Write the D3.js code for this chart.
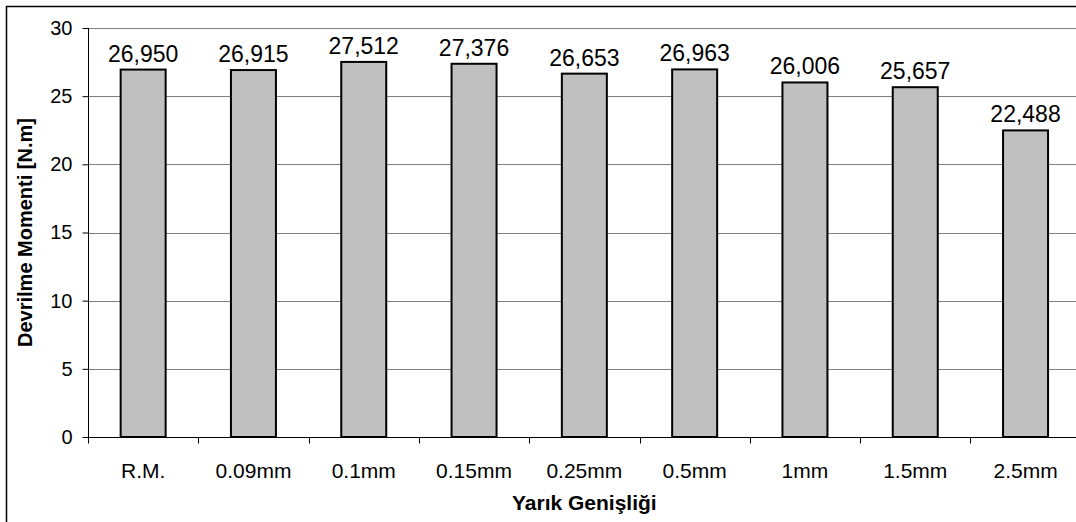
<!DOCTYPE html>
<html>
<head>
<meta charset="utf-8">
<script src="https://cdn.jsdelivr.net/npm/d3@7"></script>
<style>
  html, body { margin: 0; padding: 0; background: #fff; }
  svg { display: block; }
  text { font-family: "Liberation Sans", Arial, sans-serif; fill: #000; }
</style>
</head>
<body>
<svg id="chart" width="1076" height="522"></svg>
<script>
// Slot widths and overturning moments
const categories = ["R.M.", "0.09mm", "0.1mm", "0.15mm", "0.25mm", "0.5mm", "1mm", "1.5mm", "2.5mm"];
const moments = [26.950, 26.915, 27.512, 27.376, 26.653, 26.963, 26.006, 25.657, 22.488];
const yTicks = [0, 5, 10, 15, 20, 25, 30];
const xTitle = "Yarık Genişliği";
const yTitle = "Devrilme Momenti [N.m]";

const svg = d3.select("#chart");

// Outer chart frame (runs past the right and bottom edges)
svg.append("rect")
  .attr("x", 6.5).attr("y", 6.5)
  .attr("width", 1090).attr("height", 540)
  .attr("fill", "#fff")
  .attr("stroke", "#000")
  .attr("stroke-width", 1.5);

const plot = { left: 88, top: 28, right: 1080.7, bottom: 437 };

const x = d3.scaleBand()
  .domain(categories)
  .range([plot.left, plot.right])
  .paddingInner(0.592)
  .paddingOuter(0.296);

const y = d3.scaleLinear()
  .domain([0, 30])
  .range([plot.bottom, plot.top]);

// Horizontal gridlines
svg.append("g")
  .selectAll("line")
  .data(yTicks.filter(t => t > 0))
  .join("line")
  .attr("x1", plot.left).attr("x2", plot.right + 10)
  .attr("y1", d => Math.round(y(d)) + 0.5)
  .attr("y2", d => Math.round(y(d)) + 0.5)
  .attr("stroke", "#808080")
  .attr("stroke-width", 1);

// Bars
svg.append("g")
  .selectAll("rect")
  .data(moments)
  .join("rect")
  .attr("x", (d, i) => x(categories[i]))
  .attr("y", d => y(d))
  .attr("width", x.bandwidth())
  .attr("height", d => y(0) - y(d))
  .attr("fill", "#c0c0c0")
  .attr("stroke", "#000")
  .attr("stroke-width", 2);

// Value labels
const fmt = d3.formatLocale({ decimal: ",", thousands: ".", grouping: [3], currency: ["", ""] }).format(".3f");
svg.append("g")
  .selectAll("text")
  .data(moments)
  .join("text")
  .attr("x", (d, i) => x(categories[i]) + x.bandwidth() / 2)
  .attr("y", d => y(d) - 8)
  .attr("text-anchor", "middle")
  .style("font-size", "23px")
  .text(d => fmt(d));

// Y axis
const yAxis = svg.append("g")
  .attr("transform", `translate(${plot.left + 0.5},0)`)
  .call(d3.axisLeft(y).tickValues(yTicks).tickSize(6).tickPadding(10).tickFormat(d3.format("d")));
yAxis.select(".domain").attr("stroke", "#000").attr("d", `M-0,${plot.top}V${plot.bottom}`);
yAxis.selectAll(".tick line").attr("stroke", "#000");
yAxis.selectAll(".tick text").style("font-size", "20px").attr("font-family", null);

// X axis: baseline with ticks on category boundaries
const xAxis = svg.append("g").attr("transform", `translate(0,${plot.bottom + 0.5})`);
xAxis.append("line")
  .attr("x1", plot.left).attr("x2", plot.right + 10)
  .attr("stroke", "#000");
const step = x.step();
const bounds = d3.range(categories.length + 1).map(i => plot.left + i * step);
xAxis.selectAll("line.tk")
  .data(bounds)
  .join("line")
  .attr("class", "tk")
  .attr("x1", d => Math.round(d) + 0.5).attr("x2", d => Math.round(d) + 0.5)
  .attr("y1", 0).attr("y2", 6)
  .attr("stroke", "#000");
xAxis.selectAll("text")
  .data(categories)
  .join("text")
  .attr("x", d => x(d) + x.bandwidth() / 2)
  .attr("y", 40)
  .attr("text-anchor", "middle")
  .style("font-size", "21px")
  .text(d => d);

// Axis titles
svg.append("text")
  .attr("x", (plot.left + plot.right) / 2)
  .attr("y", 510)
  .attr("text-anchor", "middle")
  .style("font-size", "21px")
  .style("font-weight", "bold")
  .text(xTitle);

svg.append("text")
  .attr("transform", `translate(32,${(plot.top + plot.bottom) / 2}) rotate(-90)`)
  .attr("text-anchor", "middle")
  .style("font-size", "20px")
  .style("font-weight", "bold")
  .text(yTitle);
</script>
</body>
</html>
